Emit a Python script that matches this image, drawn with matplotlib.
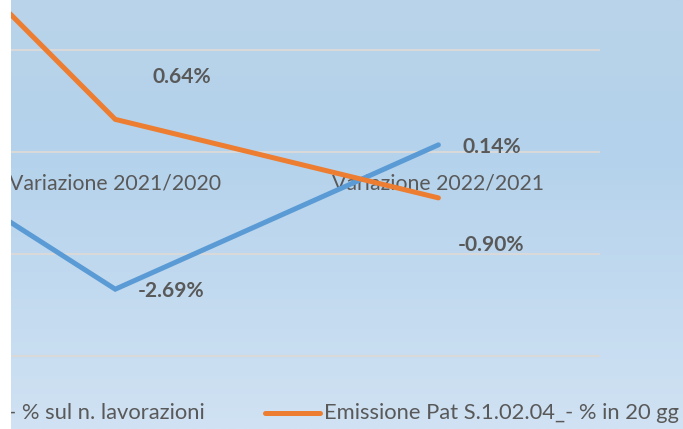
import numpy as np
import matplotlib
matplotlib.use('Agg')
import matplotlib.pyplot as plt
from matplotlib.lines import Line2D
from matplotlib.patches import Rectangle
from matplotlib.colors import LinearSegmentedColormap

categories = ['Variazione 2020/2019', 'Variazione 2021/2020', 'Variazione 2022/2021']
series_names = ['Emissione Pat S.1.02.04_- % sul n. lavorazioni',
                'Emissione Pat S.1.02.04_- % in 20 gg']
blue_values = [1.36, -2.69, 0.14]
orange_values = [7.0, 0.64, -0.90]
value_labels_blue = ['1.36%', '-2.69%', '0.14%']
value_labels_orange = ['7.00%', '0.64%', '-0.90%']
colors = ['#5B9BD5', '#ED7D31']
yticks = [-4, -2, 0, 2, 4, 6, 8]

FAMILY = 'Lato'
TXT = '#595959'
W, H = 683, 429
fig = plt.figure(figsize=(W / 100, H / 100), dpi=100)
fig.patch.set_facecolor('white')
renderer = fig.canvas.get_renderer()


def fit(text, target_px, weight='normal'):
    t = fig.text(0, 0, text, fontsize=10, family=FAMILY, weight=weight)
    w = t.get_window_extent(renderer).width
    t.remove()
    return 10 * target_px / w


cat_fs = fit('Variazione 2022/2021', 213)
lab_fs = fit('0.64%', 59, 'bold')
leg_fs = fit(series_names[1], 354)

# chart-area gradient background
bg = fig.add_axes([11 / W, 0, (W - 11) / W, 1], zorder=-1)
grad = np.linspace(0, 1, 256).reshape(-1, 1)
cmap = LinearSegmentedColormap.from_list(
    'bg', [(0, '#b9d4ea'), (0.35, '#b4d2ec'), (1, '#d0e2f3')])
bg.imshow(grad, aspect='auto', cmap=cmap, extent=[0, 1, 0, 1], origin='upper')
bg.axis('off')

# plot area (partly outside the visible figure, as in the cropped reference)
ymin = -5
ax = fig.add_axes([-369.5 / W, 22 / H, 969.5 / W, 13 * 51 / H])
ax.patch.set_alpha(0)
x = np.arange(len(categories))
ax.set_xlim(-0.5, len(categories) - 0.5)
ax.set_ylim(ymin, yticks[-1])
ax.set_yticks(yticks)
ax.set_yticklabels([])
ax.yaxis.grid(True, color='#d9d9d9', lw=1.5)
ax.set_axisbelow(True)
for s in ax.spines.values():
    s.set_visible(False)
ax.spines['bottom'].set_position(('data', 0))
ax.set_xticks(x)
ax.set_xticklabels(categories, fontsize=cat_fs, family=FAMILY, color=TXT)
ax.tick_params(axis='x', length=0, pad=15.5)
ax.tick_params(axis='y', length=0)

ax.plot(x, blue_values, color=colors[0], lw=3.6, solid_capstyle='round',
        solid_joinstyle='miter', label=series_names[0])
ax.plot(x, orange_values, color=colors[1], lw=3.6, solid_capstyle='round',
        solid_joinstyle='miter', label=series_names[1])

k = 0.72  # px -> pt
blue_off = [(56, -2), (56, -2), (53, -2)]
orange_off = [(67, 42), (67, 42), (53, -47)]
# value labels of the visible categories (the first one is cropped away)
for i in range(1, len(categories)):
    ax.annotate(value_labels_blue[i], (x[i], blue_values[i]),
                xytext=(blue_off[i][0] * k, blue_off[i][1] * k), textcoords='offset points',
                ha='center', va='center', fontsize=lab_fs, weight='bold',
                family=FAMILY, color=TXT)
    ax.annotate(value_labels_orange[i], (x[i], orange_values[i]),
                xytext=(orange_off[i][0] * k, orange_off[i][1] * k), textcoords='offset points',
                ha='center', va='center', fontsize=lab_fs, weight='bold',
                family=FAMILY, color=TXT)

# legend (bottom, partly cropped on the left)
ly = (H - 413) / H
fig.add_artist(Line2D([265 / W, 320 / W], [ly, ly], transform=fig.transFigure,
                      color=colors[1], lw=3.6, solid_capstyle='round'))
fig.text(324 / W, ly, series_names[1], fontsize=leg_fs, family=FAMILY,
         color=TXT, ha='left', va='center')
fig.text(205 / W, ly, series_names[0], fontsize=leg_fs, family=FAMILY,
         color=TXT, ha='right', va='center')

# white strip on the left (the reference crop)
fig.add_artist(Rectangle((0, 0), 11 / W, 1, transform=fig.transFigure,
                         facecolor='white', edgecolor='none', zorder=10))

fig.savefig('out.png', dpi=100, facecolor='white')
